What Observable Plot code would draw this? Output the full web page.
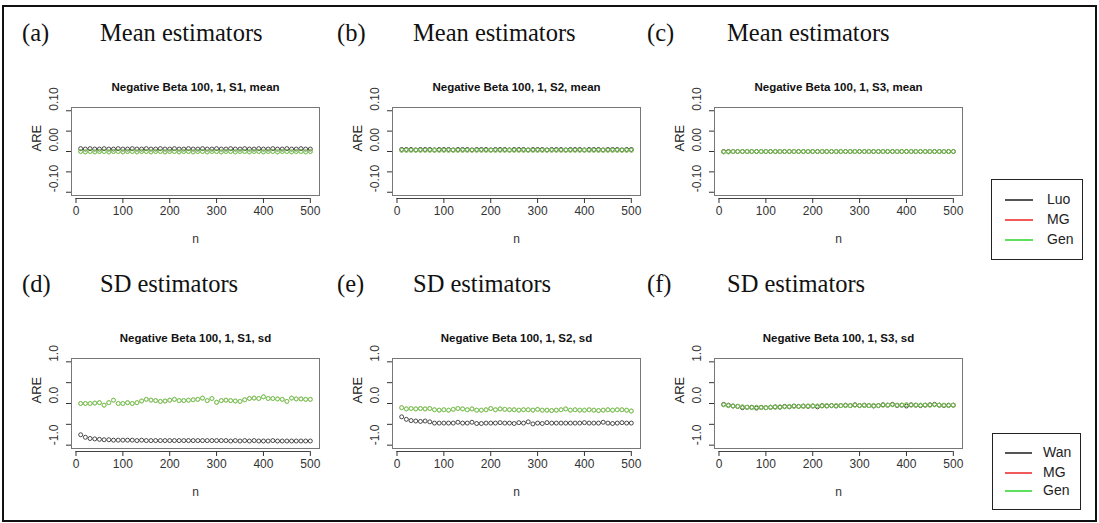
<!DOCTYPE html>
<html><head><meta charset="utf-8">
<script src="https://cdn.jsdelivr.net/npm/d3@7"></script>
<script src="https://cdn.jsdelivr.net/npm/@observablehq/plot@0.6"></script>
<style>
body{margin:0;background:#fff;}
#wrap{position:relative;width:1099px;height:523px;overflow:hidden;font-family:"Liberation Sans",Arial,sans-serif;background:#fff;}
.border{position:absolute;left:2px;top:5px;width:1095px;height:517px;border:2px solid #111;box-sizing:border-box;}
.panel{position:absolute;}
.tag,.ttl{position:absolute;font-family:"Liberation Serif",serif;font-size:24.5px;line-height:1;color:#111;white-space:nowrap;}
.legend{position:absolute;border:1.5px solid #222;box-sizing:border-box;background:#fff;}
.lg-line{position:absolute;height:2px;}
.lg-txt{position:absolute;font-size:14px;line-height:1;color:#222;}
</style>
</head><body>
<div id="wrap"><div class="border"></div></div>
<script>
// ---------- data ----------
const nVals = [10,20,30,40,50,60,70,80,90,100,110,120,130,140,150,160,170,180,190,200,
  210,220,230,240,250,260,270,280,290,300,310,320,330,340,350,360,370,380,390,400,
  410,420,430,440,450,460,470,480,490,500];
const xTicks = [0,100,200,300,400,500];
const meanYTicks = [-0.10,-0.05,0,0.05,0.10];
const meanYLabels = [-0.10,0,0.10];
const sdYTicks = [-1.0,-0.5,0,0.5,1.0];
const sdYLabels = [-1.0,0,1.0];
const seriesKeys = ["Ref", "MG", "Gen"];
const seriesColors = ["#2a2a2a", "#e8423f", "#66d455"];

// (a) mean, S1
const luoMeanS1 = [0.007,0.006,0.007,0.006,0.006,0.007,0.006,0.006,0.007,0.006,0.006,0.007,0.006,0.006,0.007,0.006,0.006,0.007,0.006,0.006,
  0.007,0.006,0.006,0.007,0.006,0.006,0.007,0.006,0.006,0.007,0.006,0.006,0.007,0.006,0.006,0.007,0.006,0.006,0.007,0.006,
  0.006,0.007,0.006,0.006,0.007,0.006,0.006,0.007,0.006,0.006];
const genMeanS1 = [0.000,-0.001,0.000,-0.001,0.000,0.000,-0.001,0.000,0.000,-0.001,0.000,0.000,-0.001,0.000,0.000,-0.001,0.000,0.000,-0.001,0.000,
  0.000,-0.001,0.000,0.000,-0.001,0.000,0.000,-0.001,0.000,0.000,-0.001,0.000,0.000,-0.001,0.000,0.000,-0.001,0.000,0.000,-0.001,
  0.000,0.000,-0.001,0.000,0.000,-0.001,0.000,0.000,-0.001,0.000];
const mgMeanS1 = genMeanS1;
// (b) mean, S2
const luoMeanS2 = [0.005,0.005,0.005,0.004,0.005,0.005,0.005,0.004,0.005,0.005,0.005,0.004,0.005,0.005,0.005,0.004,0.005,0.005,0.005,0.004,
  0.005,0.005,0.005,0.004,0.005,0.005,0.005,0.004,0.005,0.005,0.005,0.004,0.005,0.005,0.005,0.004,0.005,0.005,0.005,0.004,
  0.005,0.005,0.005,0.004,0.005,0.005,0.005,0.004,0.005,0.005];
const genMeanS2 = [0.003,0.003,0.003,0.003,0.003,0.003,0.003,0.003,0.003,0.003,0.003,0.003,0.003,0.003,0.003,0.003,0.003,0.003,0.003,0.003,
  0.003,0.003,0.003,0.003,0.003,0.003,0.003,0.003,0.003,0.003,0.003,0.003,0.003,0.003,0.003,0.003,0.003,0.003,0.003,0.003,
  0.003,0.003,0.003,0.003,0.003,0.003,0.003,0.003,0.003,0.003];
const mgMeanS2 = genMeanS2;
// (c) mean, S3
const luoMeanS3 = [0.000,0.000,0.000,0.000,0.000,0.000,0.000,0.000,0.000,0.000,0.000,0.000,0.000,0.000,0.000,0.000,0.000,0.000,0.000,0.000,
  0.000,0.000,0.000,0.000,0.000,0.000,0.000,0.000,0.000,0.000,0.000,0.000,0.000,0.000,0.000,0.000,0.000,0.000,0.000,0.000,
  0.000,0.000,0.000,0.000,0.000,0.000,0.000,0.000,0.000,0.000];
const genMeanS3 = [-0.001,-0.001,0.000,0.000,0.000,0.000,0.000,0.000,0.000,0.000,0.000,0.000,0.000,0.000,0.000,0.000,0.000,0.000,0.000,0.000,
  0.000,0.000,0.000,0.000,0.000,0.000,0.000,0.000,0.000,0.000,0.000,0.000,0.000,0.000,0.000,0.000,0.000,0.000,0.000,0.000,
  0.000,0.000,0.000,0.000,0.000,0.000,0.000,0.000,0.000,0.000];
const mgMeanS3 = genMeanS3;
// (d) sd, S1
const wanSdS1 = [-0.75,-0.81,-0.84,-0.85,-0.86,-0.87,-0.87,-0.88,-0.88,-0.88,-0.88,-0.88,-0.89,-0.88,-0.89,-0.89,-0.89,-0.89,-0.89,-0.89,
  -0.89,-0.89,-0.89,-0.89,-0.89,-0.89,-0.89,-0.89,-0.89,-0.89,-0.89,-0.89,-0.90,-0.89,-0.90,-0.89,-0.90,-0.89,-0.90,-0.90,
  -0.90,-0.89,-0.90,-0.90,-0.90,-0.90,-0.90,-0.90,-0.90,-0.90];
const genSdS1 = [0.00,0.00,0.00,0.01,0.02,-0.04,0.02,0.08,0.00,0.00,0.02,0.00,0.02,0.06,0.10,0.08,0.07,0.05,0.06,0.08,
  0.10,0.07,0.07,0.08,0.09,0.10,0.13,0.07,0.12,0.03,0.07,0.08,0.07,0.06,0.05,0.09,0.12,0.13,0.12,0.16,
  0.12,0.12,0.11,0.10,0.05,0.13,0.11,0.11,0.10,0.10];
const mgSdS1 = genSdS1;
// (e) sd, S2
const wanSdS2 = [-0.32,-0.38,-0.41,-0.42,-0.43,-0.42,-0.44,-0.47,-0.47,-0.47,-0.47,-0.47,-0.45,-0.47,-0.47,-0.45,-0.48,-0.48,-0.47,-0.47,
  -0.47,-0.46,-0.47,-0.47,-0.48,-0.46,-0.47,-0.44,-0.49,-0.47,-0.48,-0.46,-0.47,-0.47,-0.47,-0.47,-0.47,-0.47,-0.47,-0.46,
  -0.47,-0.47,-0.47,-0.45,-0.47,-0.48,-0.47,-0.46,-0.47,-0.47];
const genSdS2 = [-0.10,-0.13,-0.12,-0.13,-0.12,-0.13,-0.12,-0.15,-0.16,-0.15,-0.16,-0.14,-0.12,-0.13,-0.15,-0.13,-0.16,-0.16,-0.15,-0.12,
  -0.15,-0.13,-0.14,-0.15,-0.15,-0.16,-0.15,-0.15,-0.16,-0.14,-0.16,-0.16,-0.17,-0.16,-0.15,-0.13,-0.16,-0.15,-0.16,-0.16,
  -0.15,-0.16,-0.17,-0.16,-0.15,-0.16,-0.15,-0.15,-0.16,-0.18];
const mgSdS2 = genSdS2;
// (f) sd, S3
const wanSdS3 = [-0.02,-0.04,-0.06,-0.07,-0.10,-0.09,-0.09,-0.11,-0.09,-0.10,-0.09,-0.08,-0.09,-0.07,-0.08,-0.06,-0.07,-0.06,-0.07,-0.06,
  -0.08,-0.05,-0.06,-0.05,-0.06,-0.05,-0.04,-0.05,-0.03,-0.05,-0.04,-0.05,-0.06,-0.05,-0.03,-0.04,-0.02,-0.05,-0.04,-0.06,
  -0.03,-0.04,-0.05,-0.04,-0.03,-0.02,-0.04,-0.05,-0.04,-0.04];
const genSdS3 = [-0.03,-0.05,-0.06,-0.07,-0.08,-0.09,-0.10,-0.09,-0.10,-0.10,-0.09,-0.09,-0.08,-0.08,-0.07,-0.07,-0.07,-0.07,-0.06,-0.06,
  -0.06,-0.06,-0.05,-0.05,-0.05,-0.05,-0.05,-0.05,-0.04,-0.05,-0.05,-0.05,-0.05,-0.05,-0.04,-0.04,-0.03,-0.04,-0.04,-0.03,
  -0.04,-0.04,-0.04,-0.04,-0.04,-0.03,-0.04,-0.04,-0.05,-0.04];
const mgSdS3 = genSdS3;

// ---------- drawing ----------
const wrap = document.getElementById("wrap");

function addDiv(cls, left, top, text) {
  const d = document.createElement("div");
  d.className = cls; d.style.left = left + "px"; d.style.top = top + "px";
  if (text != null) d.textContent = text;
  wrap.appendChild(d); return d;
}

function panel({left, top, height, kind, title, series}) {
  const isMean = kind === "mean";
  const yDom = isMean ? [-0.108, 0.108] : [-1.08, 1.08];
  const yTicks = isMean ? meanYTicks : sdYTicks;
  const yLabels = isMean ? meanYLabels : sdYLabels;
  const fmt = isMean ? d3.format(".2f") : d3.format(".1f");
  // one dot mark per series, drawn in R's order (reference, MG, Gen)
  const widths = [0.85, 0.5, 1.0];
  const dotMarks = series.map((vals, k) => {
    const rows = vals.map((v, i) => ({n: nVals[i], v, s: seriesKeys[k]}));
    return Plot.dot(rows, {x: "n", y: "v", stroke: "s", r: 2, strokeWidth: widths[k]});
  });
  const chart = Plot.plot({
    width: 330, height,
    marginLeft: 71, marginRight: 11, marginTop: 47, marginBottom: 60,
    x: {domain: [-9.6, 519.6]},
    y: {domain: yDom},
    color: {type: "ordinal", domain: seriesKeys, range: seriesColors},
    style: {fontFamily: "'Liberation Sans', Arial, sans-serif", fontSize: "12px", color: "#333", background: "transparent"},
    marks: [
      Plot.frame({stroke: "#777", strokeWidth: 1}),
      Plot.ruleY([yDom[0]], {x1: 0, x2: 500, dy: 3, stroke: "#444", strokeWidth: 1}),
      Plot.axisX({ticks: xTicks, tickSize: 5, tickPadding: 3, dy: 3, label: null, tickFormat: d3.format("d"), fontSize: 12}),
      Plot.axisY({ticks: yTicks, tickSize: 5, tickFormat: () => "", label: null}),
      Plot.text(yLabels, {y: d => d, text: d => fmt(d).replace("−", "-"), frameAnchor: "left", rotate: -90, dx: -17, fontSize: 12, fill: "#333"}),
      Plot.text(["ARE"], {text: d => d, frameAnchor: "left", rotate: -90, dx: -35, fontSize: 13, fill: "#222"}),
      Plot.text(["n"], {text: d => d, frameAnchor: "bottom", dy: 47, fontSize: 12, fill: "#333"}),
      Plot.text([title], {text: d => d, frameAnchor: "top", dy: -25, fontSize: 11.5, fontWeight: "bold", fill: "#111"}),
      ...dotMarks
    ]
  });
  chart.classList.add("panel");
  chart.style.left = left + "px";
  chart.style.top = top + "px";
  wrap.appendChild(chart);
}

const topY = 60, botY = 311;
panel({left: 0, top: topY, height: 195, kind: "mean", title: "Negative Beta 100, 1, S1, mean",
  series: [luoMeanS1, mgMeanS1, genMeanS1]});
panel({left: 321, top: topY, height: 195, kind: "mean", title: "Negative Beta 100, 1, S2, mean",
  series: [luoMeanS2, mgMeanS2, genMeanS2]});
panel({left: 643, top: topY, height: 195, kind: "mean", title: "Negative Beta 100, 1, S3, mean",
  series: [luoMeanS3, mgMeanS3, genMeanS3]});
panel({left: 0, top: botY, height: 197, kind: "sd", title: "Negative Beta 100, 1, S1, sd",
  series: [wanSdS1, mgSdS1, genSdS1]});
panel({left: 321, top: botY, height: 197, kind: "sd", title: "Negative Beta 100, 1, S2, sd",
  series: [wanSdS2, mgSdS2, genSdS2]});
panel({left: 643, top: botY, height: 197, kind: "sd", title: "Negative Beta 100, 1, S3, sd",
  series: [wanSdS3, mgSdS3, genSdS3]});

// panel headings
const tags = ["(a)", "(b)", "(c)", "(d)", "(e)", "(f)"];
const tagLefts = [22, 337, 647];
const headLefts = [100, 413, 727];
const headings = ["Mean estimators", "SD estimators"];
const rowTops = [21, 272];
for (let r = 0; r < 2; r++) for (let c = 0; c < 3; c++) {
  addDiv("tag", tagLefts[c], rowTops[r], tags[r * 3 + c]);
  addDiv("ttl", headLefts[c], rowTops[r], headings[r]);
}

// legends
const legendTop = ["Luo", "MG", "Gen"];
const legendBot = ["Wan", "MG", "Gen"];
const legendColors = ["#555", "#f05a5a", "#5ee05e"];
function legend(left, top, w, h, labels, lineL, lineR, txtL, ys) {
  const box = addDiv("legend", left, top);
  box.style.width = w + "px"; box.style.height = h + "px";
  labels.forEach((lab, i) => {
    const ln = document.createElement("div");
    ln.className = "lg-line";
    ln.style.left = lineL + "px"; ln.style.width = (lineR - lineL) + "px";
    ln.style.top = (ys[i] - 1) + "px"; ln.style.background = legendColors[i];
    box.appendChild(ln);
    const t = document.createElement("div");
    t.className = "lg-txt"; t.textContent = lab;
    t.style.left = txtL + "px"; t.style.top = (ys[i] - 8) + "px";
    box.appendChild(t);
  });
}
legend(991, 179, 92, 81, legendTop, 13, 41, 55, [20, 40, 60]);
legend(992, 433, 89, 77, legendBot, 12, 39, 50, [19, 39, 57]);
</script>
</body></html>
